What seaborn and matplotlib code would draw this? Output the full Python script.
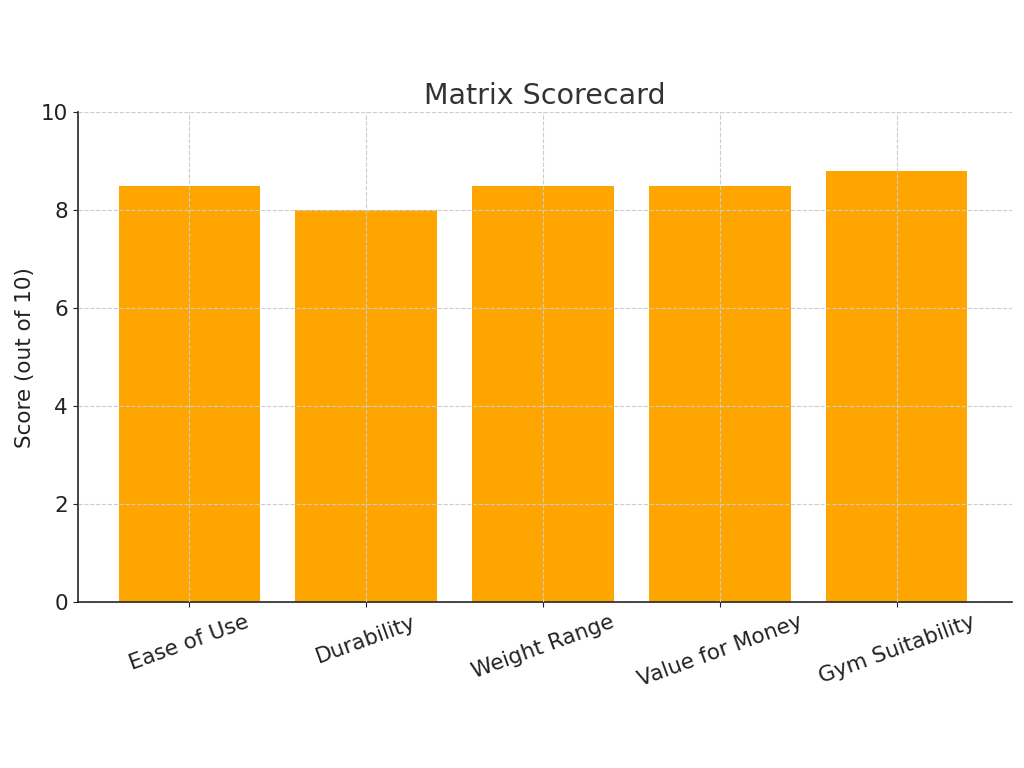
import matplotlib
matplotlib.use("Agg")
import matplotlib.pyplot as plt
import seaborn as sns
import pandas as pd

categories = ["Ease of Use", "Durability", "Weight Range", "Value for Money", "Gym Suitability"]
scores = [8.5, 8.0, 8.5, 8.5, 8.8]

df = pd.DataFrame({"criterion": categories, "score": scores})

sns.set_style("ticks")
plt.rcParams['font.family'] = ['DejaVu Sans']

fig = plt.figure(figsize=(10.24, 7.68), dpi=100)
ax = fig.add_axes([0.076, 0.216, 0.912, 0.638])

sns.barplot(x="criterion", y="score", data=df, color="#FFA500", saturation=1,
            width=0.8, linewidth=0, ax=ax)

ax.set_xlim(-0.63, 4.65)
ax.set_ylim(0, 10)
ax.set_yticks([0, 2, 4, 6, 8, 10])
ax.grid(True, linestyle="--", color="#cccccc", linewidth=0.8)
ax.set_axisbelow(False)

ax.set_title("Matrix Scorecard", fontsize=20.5, color="#333333", pad=6)
ax.set_ylabel("Score (out of 10)", fontsize=15.5, color="#222222")
ax.set_xlabel("")
ax.tick_params(axis="both", labelsize=15.5, colors="#222222")
plt.setp(ax.get_xticklabels(), rotation=20)

for s in ["top", "right"]:
    ax.spines[s].set_visible(False)
for s in ["left", "bottom"]:
    ax.spines[s].set_linewidth(1.2)
    ax.spines[s].set_color("#222222")

fig.savefig("out.png", dpi=100)
plt.close(fig)
